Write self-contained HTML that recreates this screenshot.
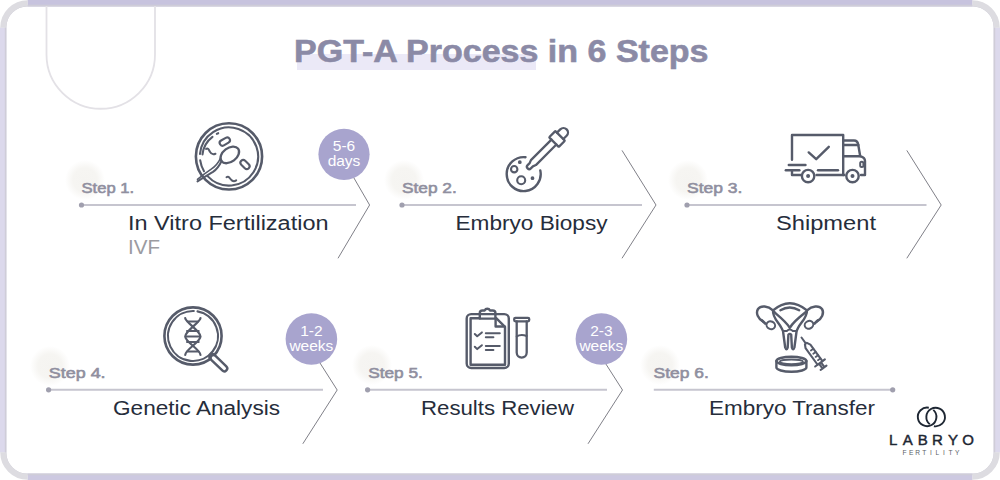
<!DOCTYPE html>
<html><head><meta charset="utf-8">
<style>
html,body{margin:0;padding:0;background:#fff;width:1000px;height:480px;overflow:hidden}
svg{display:block}
text{font-family:"Liberation Sans",sans-serif}
.st{font-size:15.4px;font-weight:400;fill:#908f9f;stroke:#908f9f;stroke-width:0.6}
.tt{font-size:19.5px;font-weight:400;fill:#262d3b}
.ic{fill:none;stroke:#565b6a;stroke-width:2.4;stroke-linecap:round;stroke-linejoin:round}
.ln{stroke:#c6c5cf;stroke-width:2.1}
.dot{fill:#a09fae}
.chev{fill:none;stroke:#808088;stroke-width:1}
.bub{fill:#a8a4ce}
.bt{font-size:15.5px;fill:#fff}
</style></head>
<body>
<svg width="1000" height="480" viewBox="0 0 1000 480">
<!-- frame -->
<g fill="none" stroke-width="6.4">
<path d="M27.5,3.2 H972.5" stroke="#c7c3de"/>
<path d="M3.2,27.5 V452.5" stroke="#dcd9ec"/>
<path d="M996.8,27.5 V452.5" stroke="#dcd9ec"/>
<path d="M27.5,476.8 H972.5" stroke="#cdc9e1"/>
</g>
<rect x="5.6" y="5.6" width="988.8" height="468.8" rx="22" fill="none" stroke="#cfcdd8" stroke-width="1.6"/>
<g fill="none" stroke="#dddce1" stroke-width="6">
<path d="M3.2,27.7 A24.5,24.5 0 0 1 27.7,3.2"/>
<path d="M972.3,3.2 A24.5,24.5 0 0 1 996.8,27.7"/>
<path d="M996.8,452.3 A24.5,24.5 0 0 1 972.3,476.8"/>
<path d="M27.7,476.8 A24.5,24.5 0 0 1 3.2,452.3"/>
</g>
<!-- U deco -->
<path d="M46.5,6 V54.5 A54.25,54.25 0 0 0 155,54.5 V6" fill="none" stroke="#e3e1e6" stroke-width="1.8"/>

<!-- title -->
<rect x="297" y="54" width="239" height="16" fill="#ebe9f7"/>
<text x="294" y="62" font-size="32" font-weight="700" fill="#8b8aa6" stroke="#8b8aa6" stroke-width="0.6" textLength="414.5" lengthAdjust="spacingAndGlyphs">PGT-A Process in 6 Steps</text>

<!-- faint blobs -->
<defs><radialGradient id="bl"><stop offset="0" stop-color="#f5f4f1"/><stop offset="0.6" stop-color="#f6f5f2"/><stop offset="1" stop-color="#f6f5f2" stop-opacity="0"/></radialGradient></defs>
<g fill="url(#bl)">
<circle cx="85" cy="180" r="20"/>
<circle cx="404" cy="180" r="20"/>
<circle cx="688" cy="180" r="20"/>
<circle cx="50" cy="366" r="20"/>
<circle cx="372" cy="365" r="20"/>
<circle cx="660" cy="365" r="20"/>
</g>
<!-- row 1 lines -->
<line class="ln" x1="81.5" y1="205" x2="356" y2="205"/>
<circle class="dot" cx="81.5" cy="205" r="2.6"/>
<line class="ln" x1="402" y1="205" x2="642" y2="205"/>
<circle class="dot" cx="402" cy="205" r="2.6"/>
<line class="ln" x1="687" y1="205" x2="926.5" y2="205"/>
<circle class="dot" cx="687" cy="205" r="2.6"/>
<!-- row 2 lines -->
<line class="ln" x1="48.6" y1="389.8" x2="323" y2="389.8"/>
<circle class="dot" cx="48.6" cy="389.8" r="2.6"/>
<line class="ln" x1="367.6" y1="389.8" x2="607" y2="389.8"/>
<circle class="dot" cx="367.6" cy="389.8" r="2.6"/>
<line class="ln" x1="653.8" y1="389.8" x2="892.7" y2="389.8"/>
<circle class="dot" cx="892.7" cy="389.8" r="2.6"/>

<!-- chevrons -->
<polyline class="chev" points="338,150.5 369.6,205 338,258.3"/>
<polyline class="chev" points="622,150.4 656,205 622,258.3"/>
<polyline class="chev" points="906.8,150.4 941.2,205 906.8,258.3"/>
<polyline class="chev" points="302.8,336 337.2,390 302.8,443.8"/>
<polyline class="chev" points="588,336 622.5,390 588,443.8"/>

<!-- bubbles -->
<circle class="bub" cx="344" cy="154.3" r="25.6"/>
<text class="bt" x="344" y="151" text-anchor="middle">5-6</text>
<text class="bt" x="344" y="166" text-anchor="middle">days</text>
<circle class="bub" cx="311.4" cy="339" r="25.8"/>
<text class="bt" x="311.4" y="336" text-anchor="middle">1-2</text>
<text class="bt" x="311.4" y="351" text-anchor="middle">weeks</text>
<circle class="bub" cx="601.4" cy="339" r="25.8"/>
<text class="bt" x="601.4" y="336" text-anchor="middle">2-3</text>
<text class="bt" x="601.4" y="351" text-anchor="middle">weeks</text>

<!-- step labels -->
<text class="st" x="81.5" y="192.6" textLength="52.7" lengthAdjust="spacingAndGlyphs">Step 1.</text>
<text class="st" x="402" y="192.8" textLength="54.8" lengthAdjust="spacingAndGlyphs">Step 2.</text>
<text class="st" x="687" y="192.8" textLength="55.4" lengthAdjust="spacingAndGlyphs">Step 3.</text>
<text class="st" x="48.8" y="378" textLength="56.8" lengthAdjust="spacingAndGlyphs">Step 4.</text>
<text class="st" x="368.2" y="378" textLength="54.7" lengthAdjust="spacingAndGlyphs">Step 5.</text>
<text class="st" x="653.5" y="378" textLength="55.3" lengthAdjust="spacingAndGlyphs">Step 6.</text>

<!-- titles -->
<text class="tt" x="128" y="230" textLength="200.5" lengthAdjust="spacingAndGlyphs">In Vitro Fertilization</text>
<text class="tt" x="128" y="253.8" style="fill:#9b9ba1" textLength="32" lengthAdjust="spacingAndGlyphs">IVF</text>
<text class="tt" x="455.5" y="230" textLength="152" lengthAdjust="spacingAndGlyphs">Embryo Biopsy</text>
<text class="tt" x="776" y="230" textLength="100" lengthAdjust="spacingAndGlyphs">Shipment</text>
<text class="tt" x="113" y="415" textLength="167" lengthAdjust="spacingAndGlyphs">Genetic Analysis</text>
<text class="tt" x="421" y="415" textLength="153" lengthAdjust="spacingAndGlyphs">Results Review</text>
<text class="tt" x="709" y="415" textLength="166" lengthAdjust="spacingAndGlyphs">Embryo Transfer</text>

<!-- ICONS placeholder -->

<!-- ICON 1 petri/sperm -->
<g transform="translate(229,156.4)" class="ic">
<circle r="33.1" stroke-width="2.6"/>
<path d="M-21.2,20 A29.1,29.1 0 1 0 -29,-2.5" stroke-width="2.1"/><path d="M-28.8,4 A29.1,29.1 0 0 0 -25,14.8" stroke-width="2.1"/>
<path d="M-26.5,-2 A25.5,25.5 0 0 1 -16.5,-19.5" stroke-width="2.1"/>
<path d="M-12.2,-22.5 L-10.8,-23.2" stroke-width="2.1"/>
<ellipse cx="0" cy="0" rx="10.4" ry="6.9" transform="translate(0.8,-1.5) rotate(-37)" stroke-width="2.3"/>
<path d="M-7.4,4.6 C-9.5,9 -11.5,12.5 -16,15.5 C-21,18.5 -25,20.5 -31.5,25" stroke-width="2"/>
<path d="M-8.5,2 C-11,7 -13.5,10 -17.5,12.5 C-22,15.5 -26,18 -31.5,23" stroke-width="1.6"/>
<rect x="-5.5" y="-2.8" width="11" height="5.6" rx="2.8" transform="translate(-4.2,-14.8) rotate(-30)" stroke-width="2.1"/>
<rect x="-5.3" y="-2.8" width="10.6" height="5.6" rx="2.8" transform="translate(16,8.1) rotate(45)" stroke-width="2.1"/>
<path d="M-23,-7.4 C-21,-9 -20,-6.5 -19,-4.5 C-18,-2.5 -16.5,-1.5 -13.5,-2.6" stroke-width="2"/>
<path d="M-2.5,20.8 C-0.5,19.2 0.5,21.5 1.8,23 C3,24.5 5,25.5 7.2,24" stroke-width="2"/>
</g>

<!-- ICON 2 biopsy -->
<g class="ic">
<path d="M525.5,157.2 A17,17 0 1 0 540.3,170.5" stroke-width="2.4"/>
<circle cx="514.2" cy="169.2" r="3.2" stroke-width="2.1"/>
<circle cx="521.2" cy="180.2" r="4" stroke-width="2.1"/>
<circle cx="519.8" cy="162.2" r="0.9" stroke-width="2"/>
<circle cx="532.5" cy="178.2" r="0.9" stroke-width="2"/>
<g transform="translate(527.4,168.6) rotate(-45)">
<path d="M2.6,-2.3 A2.3,2.3 0 0 0 2.6,2.3 L5.5,2.3 L8.5,3.5 L37.5,3.5 M37.5,-3.5 L8.5,-3.5 L5.5,-2.3 L2.6,-2.3" stroke-width="2.3"/>
<rect x="37.5" y="-6.8" width="8.8" height="13.6" rx="0.8" stroke-width="2.3"/>
<path d="M46.3,-4.5 L51,-4.5 A4.5,4.5 0 0 1 51,4.5 L46.3,4.5" stroke-width="2.3"/>
</g>
</g>

<!-- ICON 3 truck -->
<g class="ic" stroke-width="2.3">
<path d="M792,159.8 V135 H843.2 V175"/>
<path d="M808.7,152.4 L816.2,159.2 L828.8,146.8"/>
<path d="M843.2,140.5 H854 Q857.5,140.5 858.2,144.5 L860.2,156.2 Q865,157.5 865,161 V175 H861"/>
<path d="M843.2,145 H858.3"/>
<path d="M843.2,156.2 H860.2"/>
<rect x="860.2" y="161.8" width="3.2" height="5.2" rx="1.5" stroke-width="2"/>
<path d="M792,170.3 V175 H800.6"/>
<path d="M816.5,175 H844.3"/>
<path d="M818,170.3 H838"/>
<path d="M788.8,165 H805.5"/>
<path d="M785.8,170.3 H799.4"/>
<circle cx="808.1" cy="176.1" r="6.2"/>
<circle cx="852.5" cy="176.1" r="6.2"/>
<circle cx="808.1" cy="176.1" r="1" stroke-width="2"/>
<circle cx="852.5" cy="176.1" r="1" stroke-width="2"/>
</g>

<!-- ICON 4 magnifier -->
<g class="ic">
<circle cx="193" cy="336" r="28.6" stroke-width="2.6"/>
<path d="M193.8,311 A25,25 0 1 0 197.5,311.4" stroke-width="2.1"/>
<path d="M212.5,357 L224.3,368.4" stroke-width="8.2" stroke="#565b6a"/>
<path d="M213.5,358 L224.3,368.4" stroke-width="3.4" stroke="#fff"/>
<path d="M185.2,318 C185.2,322 200.5,331 200.5,336.5 C200.5,342 185.2,349.5 185.2,355" stroke-width="2.2"/>
<path d="M200.5,318 C200.5,322 185.2,331 185.2,336.5 C185.2,342 200.5,349.5 200.5,355" stroke-width="2.2"/>
<path d="M187.5,321.5 H198.2 M187,331 H198.7 M186.4,336.5 H199.3 M187,342 H198.7 M187.5,351.5 H198.2" stroke-width="2"/>
</g>

<!-- ICON 5 clipboard -->
<g class="ic" stroke-width="2.4">
<rect x="466.7" y="314.1" width="42.1" height="53.9" rx="4.5"/>
<path d="M479.8,318.2 H470.6 V364.8 H505 V326.8 L496.2,318.2 H496"/>
<path d="M495.6,318.6 V326.5 H504.6"/>
<path d="M479.8,318.6 V313 Q479.8,310.5 482.5,310.5 H484.6 A3,3 0 0 1 490,310.5 H492.6 Q495.4,310.5 495.4,313 V318.6 Z"/>
<path d="M474.8,334 L477.2,336.3 L481.9,332.4 M474.8,346.8 L477.2,349.1 L481.9,345.2" stroke-width="2"/>
<path d="M485.8,333.2 H499.8 M485.8,337.3 H493.4 M485.8,346 H499.8 M485.8,350 H493.4" stroke-width="2"/>
<rect x="514.2" y="317.9" width="15" height="3.4" rx="1.2" stroke-width="2.3"/>
<path d="M516.7,321.3 V352.6 A5,5 0 0 0 526.7,352.6 V321.3" stroke-width="2.3"/>
<path d="M516.7,336.4 Q521,333.8 526.7,336" stroke-width="2"/>
</g>

<!-- ICON 6 uterus -->
<g class="ic" stroke-width="2.2">
<path d="M773,310.4 Q789.7,296 807,310.4"/>
<path d="M773,310.4 C772.5,318 778.5,322 781.5,328 L783,331 L785.2,347.5 Q786.4,351.2 787.7,347.5 L788.4,334.8 Q789.8,333 791.2,334.8 L791.9,347.5 Q793.2,351.2 794.4,347.5 L796.6,331 L798,328 C801,322 807,318 807,310.4"/>
<path d="M780.4,310.2 Q789.7,304.8 799.2,310.2"/>
<path d="M773.5,311.5 C780,317 786.5,322 789.8,327.8 C793,322 799.5,317 806.5,311.5"/>
<path d="M783,331 H786.8 Q789.8,328.2 792.8,331 H796.6" stroke-width="1.9"/>
<path d="M773,310.4 C768,306 761,305 758,309 C755.5,313 758,319 763.2,321.6"/>
<path d="M807,310.4 C812,306 819,305 822,309 C824.5,313 822,319 816.6,321.6"/>
<ellipse cx="770.8" cy="325.2" rx="4.4" ry="3.8" transform="rotate(25 770.8 325.2)" stroke-width="2"/>
<ellipse cx="809" cy="324.8" rx="4.4" ry="3.8" transform="rotate(-25 809 324.8)" stroke-width="2"/>
<path d="M762,320.4 L765.2,323.5 M817.8,320.4 L814.6,323.5" stroke-width="2.6"/>
<ellipse cx="791.4" cy="361" rx="15" ry="4.2"/>
<ellipse cx="791.4" cy="361.8" rx="11.6" ry="2.3" stroke-width="1.8"/>
<path d="M776.4,361 V367.5 A15,4.2 0 0 0 806.4,367.5 V361"/>
<g transform="translate(801.5,337.5) rotate(54)">
<path d="M0,0 L7.5,0" stroke-width="2"/>
<path d="M7.5,-1.2 L11,-3 H31.5 M7.5,1.2 L11,3 H31.5" stroke-width="2.1"/>
<path d="M16,-3 V0 M20,-3 V0 M24,-3 V0 M28,-3 V0" stroke-width="1.8"/>
<path d="M31.5,-6 V6 M31.5,-1.2 H37.5 M31.5,1.2 H37.5 M37.5,-3.6 V3.6" stroke-width="2.1"/>
</g>
</g>


<!-- logo -->
<g fill="none" stroke="#1e2733" stroke-width="1.9">
<path d="M933.3,409.9 A9.3,9.3 0 1 1 928.8,407.7"/>
<path d="M929.8,424.3 A9.3,9.3 0 1 1 933.9,426.2"/>
</g>
<text x="893.1 907.8 922.7 937.4 952.9 968.1" y="445.1" font-size="15" text-anchor="middle" fill="#1e2733" stroke="#1e2733" stroke-width="0.45">LABRYO</text>
<text x="904.5 911.1 917.7 924.3 930.9 937.4 944 950.6 957.2" y="455.2" font-size="6.6" text-anchor="middle" fill="#5a5e66">FERTILITY</text>
</svg>
</body></html>
